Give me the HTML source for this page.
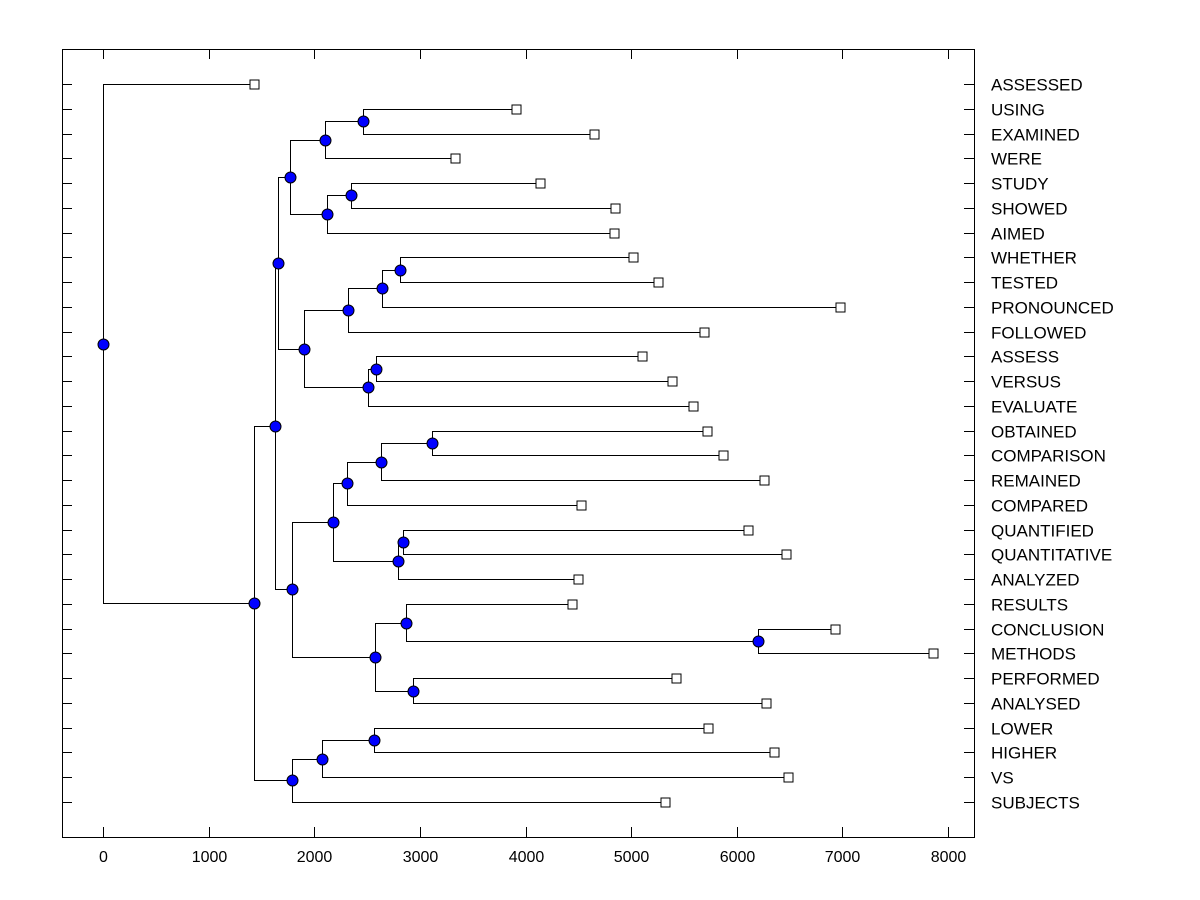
<!DOCTYPE html>
<html><head><meta charset="utf-8"><style>
html,body{margin:0;padding:0;background:#fff;}
svg{display:block;font-family:"Liberation Sans",Arial,sans-serif;}
</style></head><body>
<svg id="chart" width="1200" height="900" viewBox="0 0 1200 900" xmlns="http://www.w3.org/2000/svg"></svg>
<script>
const leafNames=["ASSESSED","USING","EXAMINED","WERE","STUDY","SHOWED","AIMED","WHETHER","TESTED","PRONOUNCED","FOLLOWED","ASSESS","VERSUS","EVALUATE","OBTAINED","COMPARISON","REMAINED","COMPARED","QUANTIFIED","QUANTITATIVE","ANALYZED","RESULTS","CONCLUSION","METHODS","PERFORMED","ANALYSED","LOWER","HIGHER","VS","SUBJECTS"];
const leafValues=[1430,3910,4650,3330,4140,4850,4840,5020,5250,6980,5690,5100,5390,5590,5720,5870,6260,4525,6105,6465,4500,4440,6930,7860,5425,6275,5730,6350,6485,5320];
const mergeA=[1,30,4,32,31,7,35,36,11,38,37,34,14,42,43,18,45,44,22,21,24,49,47,41,26,54,55,53,0];
const mergeB=[2,3,5,6,33,8,9,10,12,13,39,40,15,16,17,19,20,46,23,48,25,50,51,52,27,28,29,56,57];
const mergeHeight=[2460,2100,2350,2120,1770,2810,2640,2320,2585,2510,1903,1657,3115,2630,2310,2840,2790,2180,6200,2870,2935,2575,1790,1630,2565,2075,1790,1430,0];
const xTicks=[0,1000,2000,3000,4000,5000,6000,7000,8000];

const NS="http://www.w3.org/2000/svg";
const svg=document.getElementById('chart');
const L=62,T=49,R=974,B=837;
const xs=v=>103+v*0.10563;
const ys=i=>84+i*(802-84)/29;
function mk(tag,attrs,parent){const e=document.createElementNS(NS,tag);for(const k in attrs)e.setAttribute(k,attrs[k]);(parent||svg).appendChild(e);return e;}

const frame=mk('rect',{x:L+0.5,y:T+0.5,width:R-L,height:B-T,fill:'none',stroke:'#000','stroke-width':1});



const xg=mk('g',{});


xTicks.forEach(t=>{
  const x=Math.round(xs(t))+0.5;
  mk('line',{x1:x,x2:x,y1:B,y2:B-10,stroke:'#000'},xg);
  mk('line',{x1:x,x2:x,y1:T,y2:T+10,stroke:'#000'},xg);
  const tx=mk('text',{x:x,y:B+25,'text-anchor':'middle','font-size':16,fill:'#000'},xg);
  tx.textContent=t;
  
  
});

const yg=mk('g',{});


leafNames.forEach((n,i)=>{
  const y=Math.round(ys(i))+0.5;
  mk('line',{x1:L,x2:L+10,y1:y,y2:y,stroke:'#000'},yg);
  mk('line',{x1:R-10,x2:R,y1:y,y2:y,stroke:'#000'},yg);
  const tx=mk('text',{x:991,y:y+6,'font-size':17,fill:'#000'},yg);
  tx.textContent=n;
  
  
});

const nx=[],ny=[];
leafValues.forEach((v,i)=>{nx[i]=xs(v);ny[i]=ys(i);});
mergeA.forEach((a,k)=>{const id=30+k;nx[id]=xs(mergeHeight[k]);ny[id]=(ny[a]+ny[mergeB[k]])/2;});

const lg=mk('g',{stroke:'#000','stroke-width':1,fill:'none'});


mergeA.forEach((a,k)=>{
  const b=mergeB[k],id=30+k;
  const x=Math.round(nx[id])+0.5;
  const ya=Math.round(ny[a])+0.5,yb=Math.round(ny[b])+0.5;
  mk('path',{d:`M${Math.round(nx[a])+0.5},${ya}H${x}V${yb}H${Math.round(nx[b])+0.5}`},lg);
});
leafValues.forEach((v,i)=>{
  const r=mk('rect',{x:Math.round(nx[i])-4,y:Math.round(ny[i])-4,width:9,height:9,fill:'#fff',stroke:'#000'});
  
  
});
mergeA.forEach((a,k)=>{
  const id=30+k;
  const c=mk('circle',{cx:Math.round(nx[id])+0.5,cy:Math.round(ny[id])+0.5,r:5.5,fill:'#0000ff',stroke:'#000','stroke-width':1});
  
  
});
</script>
</body></html>
